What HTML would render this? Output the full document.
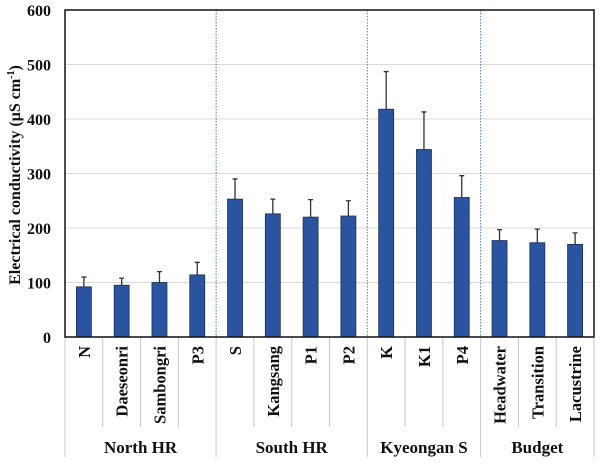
<!DOCTYPE html>
<html><head><meta charset="utf-8"><style>
body{margin:0;background:#fff;}
svg text{font-family:"Liberation Serif",serif;font-weight:bold;fill:#111;}
</style></head><body>
<svg id="chart" width="600" height="459" viewBox="0 0 600 459" xmlns="http://www.w3.org/2000/svg">
<g id="grid"></g>
<g id="dividers"></g>
<g id="bars"></g>
<g id="yticks"></g>
<g id="xlabels"></g>
<rect x="65" y="10" width="529" height="327" fill="none" stroke="#111" stroke-width="1.5"/>
<text transform="translate(20,175) rotate(-90)" text-anchor="middle" font-size="16">Electrical conductivity (µS cm<tspan font-size="10" dy="-6">-1</tspan><tspan dy="6">)</tspan></text>
</svg>
<script>
const categories=["N","Daeseonri","Sambongri","P3","S","Kangsang","P1","P2","K","K1","P4","Headwater","Transition","Lacustrine"];
const means=[92,95,100,114,253,226,220,222,418,344,256,177,173,170];
const errTops=[110,108,120,137,290,253,252,250,487,413,296,197,198,191];
const yTicks=[0,100,200,300,400,500,600];
const groups=["North HR","South HR","Kyeongan S","Budget"];
const groupSizes=[4,4,3,3];
const NS="http://www.w3.org/2000/svg";
const L=65,R=594,T=10,B=337,YMAX=600;
const y=v=>B-(v/YMAX)*(B-T);
const cw=(R-L)/categories.length;
const x=i=>L+cw*(i+0.5);
function mk(tag,attrs,parent){const e=document.createElementNS(NS,tag);for(const k in attrs)e.setAttribute(k,attrs[k]);document.getElementById(parent).appendChild(e);return e;}
yTicks.forEach(t=>{
  if(t>0&&t<YMAX){const g=mk("line",{x1:L,x2:R,y1:y(t),y2:y(t),stroke:"#d9d9d9","stroke-width":1},"grid");
  
  }
  const tx=mk("text",{x:L-14,y:y(t)+6,"text-anchor":"end","font-size":16},"yticks");
  tx.textContent=t;
  
  
});
let idx=0;const bounds=[0];
groupSizes.forEach(s=>{idx+=s;bounds.push(idx);});
for(let i=0;i<=categories.length;i++){
  const isGroup=bounds.includes(i);
  const xx=L+cw*i;
  const s=mk("line",{x1:xx,x2:xx,y1:B,y2:isGroup?457:427,stroke:"#c8c8c8","stroke-width":1},"xlabels");
  
  
  if(isGroup&&i>0&&i<categories.length){
    const d=mk("line",{x1:xx,x2:xx,y1:T,y2:B,stroke:"#4a78c0","stroke-width":1,"stroke-dasharray":"1.5,1.5"},"dividers");
    
    
  }
}
categories.forEach((c,i)=>{
  const bw=15;
  const b=mk("rect",{x:x(i)-bw/2,y:y(means[i]),width:bw,height:B-y(means[i]),fill:"#2b54a0",stroke:"#1a2f5c","stroke-width":0.8},"bars");
  
  
  const e=mk("path",{d:`M${x(i)} ${y(means[i])}V${y(errTops[i])}M${x(i)-2.5} ${y(errTops[i])}H${x(i)+2.5}`,stroke:"#333","stroke-width":1.3,fill:"none"},"bars");
  
  
  const t=mk("text",{transform:`translate(${x(i)+6},346) rotate(-90)`,"text-anchor":"end","font-size":16.5},"xlabels");
  t.textContent=c;
  
  
});
groups.forEach((g,k)=>{
  const cx=L+cw*(bounds[k]+bounds[k+1])/2;
  const t=mk("text",{x:cx,y:453,"text-anchor":"middle","font-size":17},"xlabels");
  t.textContent=g;
  
  
});
</script>
</body></html>
